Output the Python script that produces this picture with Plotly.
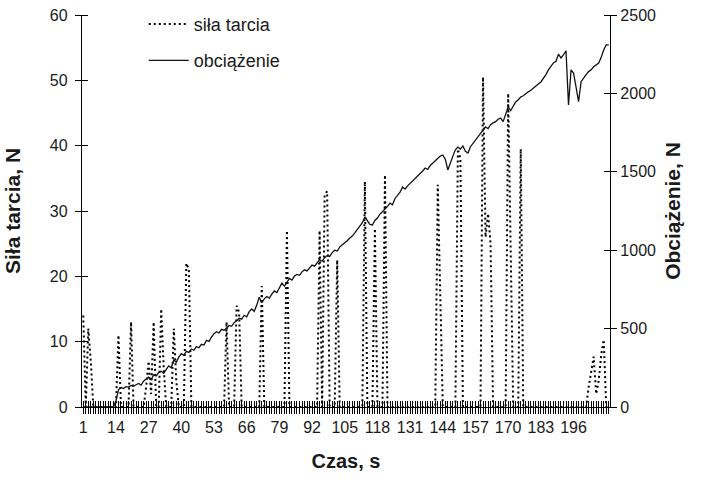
import plotly.graph_objects as go

# Friction force (left axis), one value per second/category 1..210
sila_tarcia = [
    14, 0, 12, 7, 0, 0, 0, 0, 0, 0,
    0, 0, 0, 0, 11, 0, 0, 0, 0, 13,
    0, 0, 0, 0, 0, 3, 7, 2, 13, 0,
    0, 15, 6, 0, 0, 0, 12, 4, 0, 0,
    0, 22, 21, 0, 0, 0, 0, 0, 0, 0,
    0, 0, 0, 0, 0, 0, 0, 13, 0, 0,
    0, 15.5, 14.5, 0, 0, 0, 0, 0, 0, 0,
    0, 18.5, 0, 0, 0, 0, 0, 0, 0, 0,
    0, 27, 0, 0, 0, 0, 0, 0, 0, 0,
    0, 0, 0, 0, 27, 0, 32.5, 33, 0, 0,
    0, 22.5, 0, 0, 0, 0, 0, 0, 0, 0,
    0, 0, 34.5, 0, 0, 0, 27.3, 0, 0, 0,
    35.5, 0, 0, 0, 0, 0, 0, 0, 0, 0,
    0, 0, 0, 0, 0, 0, 0, 0, 0, 0,
    0, 34, 18, 0, 0, 0, 0, 0, 0, 39.5,
    38, 0, 0, 0, 0, 0, 0, 0, 0, 50.5,
    26, 29.6, 25, 0, 0, 0, 0, 0, 0, 48,
    20, 0, 0, 0, 39.5, 0, 0, 0, 0, 0,
    0, 0, 0, 0, 0, 0, 0, 0, 0, 0,
    0, 0, 0, 0, 0, 0, 0, 0, 0, 0,
    0, 3, 5.5, 7.7, 2, 4, 8, 10.3, 0, 0,
]

# Load (right axis)
obciazenie = [
    0, 0, 0, 0, 0, 0, 0, 0, 0, 0,
    0, 0, 0, 40, 110, 125, 118, 130, 127, 138,
    132, 142, 150, 140, 165, 178, 190, 175, 205, 198,
    220, 228, 215, 240, 262, 250, 300, 285, 318, 340,
    330, 355, 348, 370, 362, 385, 378, 400, 395, 425,
    418, 445, 468, 480, 472, 495, 490, 502, 520, 515,
    538, 550, 566, 560, 585, 575, 608, 625, 610, 650,
    700, 665, 690, 705, 695, 720, 740, 730, 765, 790,
    770, 800, 820, 810, 835, 845, 840, 862, 875, 868,
    890, 905, 898, 918, 940, 930, 952, 965, 960, 985,
    1000, 995, 1020, 1035, 1046, 1060, 1078, 1090, 1110, 1130,
    1150, 1175, 1212, 1190, 1165, 1161, 1190, 1205, 1230, 1245,
    1260, 1280, 1300, 1290, 1330, 1350, 1370, 1403, 1390, 1410,
    1425, 1440, 1460, 1475, 1490, 1505, 1524, 1515, 1540, 1555,
    1570, 1585, 1600, 1607, 1580, 1512, 1560, 1600, 1640, 1658,
    1645, 1665, 1630, 1620, 1660, 1680, 1700, 1720, 1740, 1765,
    1786, 1775, 1800, 1812, 1820, 1835, 1843, 1820, 1870, 1913,
    1890, 1920, 1945, 1960, 1977, 1985, 2000, 2010, 2020, 2035,
    2045, 2060, 2073, 2095, 2120, 2150, 2175, 2194, 2205, 2250,
    2226, 2245, 2272, 1926, 2150, 2130, 2040, 1947, 2075, 2100,
    2120, 2139, 2150, 2170, 2185, 2194, 2230, 2277, 2309, 2309,
]

# Category tick labels shown on the x axis
x_labels = ["1", "14", "27", "40", "53", "66", "79", "92", "105", "118",
            "131", "144", "157", "170", "183", "196"]

czas_f = list(range(1, len(sila_tarcia) + 1))
czas_o = list(range(1, len(obciazenie) + 1))
n_cat = max(len(czas_f), len(czas_o))
categories = list(range(1, n_cat + 1))
tick_labels = [str(c) if str(c) in x_labels else "" for c in categories]

left_ticks = [0, 10, 20, 30, 40, 50, 60]
right_ticks = [0, 500, 1000, 1500, 2000, 2500]

FONT = "Liberation Sans, Arial, sans-serif"

fig = go.Figure()
fig.add_trace(go.Scatter(
    x=czas_f, y=sila_tarcia, name="siła tarcia", mode="lines",
    line=dict(color="#000000", width=2, dash="2px,3px"),
    legendgroup="a", yaxis="y",
))
fig.add_trace(go.Scatter(
    x=czas_o, y=obciazenie, name="obciążenie", mode="lines",
    line=dict(color="#111111", width=1.3),
    legendgroup="b", yaxis="y2",
))

fig.update_layout(
    width=712, height=482,
    margin=dict(l=82, r=102, t=15, b=75, autoexpand=False),
    paper_bgcolor="white", plot_bgcolor="white",
    font=dict(family=FONT, size=16, color="#1a1a1a"),
    showlegend=True,
    legend=dict(x=0.117, y=0.988, yref="container", xanchor="left", yanchor="top",
                bgcolor="rgba(0,0,0,0)", font=dict(size=18, family=FONT),
                tracegroupgap=10, itemwidth=40),
    xaxis=dict(
        range=[0.5, n_cat + 0.5], showgrid=False, zeroline=False,
        showline=True, linecolor="black", linewidth=1,
        tickmode="array", tickvals=categories, ticktext=tick_labels,
        ticks="outside", ticklen=6, tickwidth=1, tickcolor="black",
        minor=dict(tickmode="array", tickvals=[c + 0.001 for c in categories],
                   ticks="inside", ticklen=6, tickwidth=1, tickcolor="black"),
        tickfont=dict(size=16),
        title=dict(text="<b>Czas, s</b>", font=dict(size=20), standoff=18),
    ),
    yaxis=dict(
        range=[0, 60], showgrid=False, zeroline=False,
        showline=True, linecolor="black", linewidth=1.3,
        tickmode="array", tickvals=left_ticks,
        ticks="outside", ticklen=6, tickwidth=1.3, tickcolor="black",
        ticklabelstandoff=4,
        minor=dict(tickmode="array", tickvals=[v + 0.0001 for v in left_ticks],
                   ticks="inside", ticklen=6, tickwidth=1.3, tickcolor="black"),
        tickfont=dict(size=16),
        title=dict(text="<b>Siła tarcia, N</b>", font=dict(size=21), standoff=23),
    ),
    yaxis2=dict(
        range=[0, 2500], overlaying="y", side="right", anchor="x",
        showgrid=False, zeroline=False,
        showline=True, linecolor="black", linewidth=1.3,
        tickmode="array", tickvals=right_ticks,
        ticks="outside", ticklen=6, tickwidth=1.3, tickcolor="black",
        minor=dict(tickmode="array", tickvals=[v + 0.001 for v in right_ticks],
                   ticks="inside", ticklen=6, tickwidth=1.3, tickcolor="black"),
        tickfont=dict(size=16),
        title=dict(text="<b>Obciążenie, N</b>", font=dict(size=21), standoff=10),
    ),
)

fig.write_html("out.html")
